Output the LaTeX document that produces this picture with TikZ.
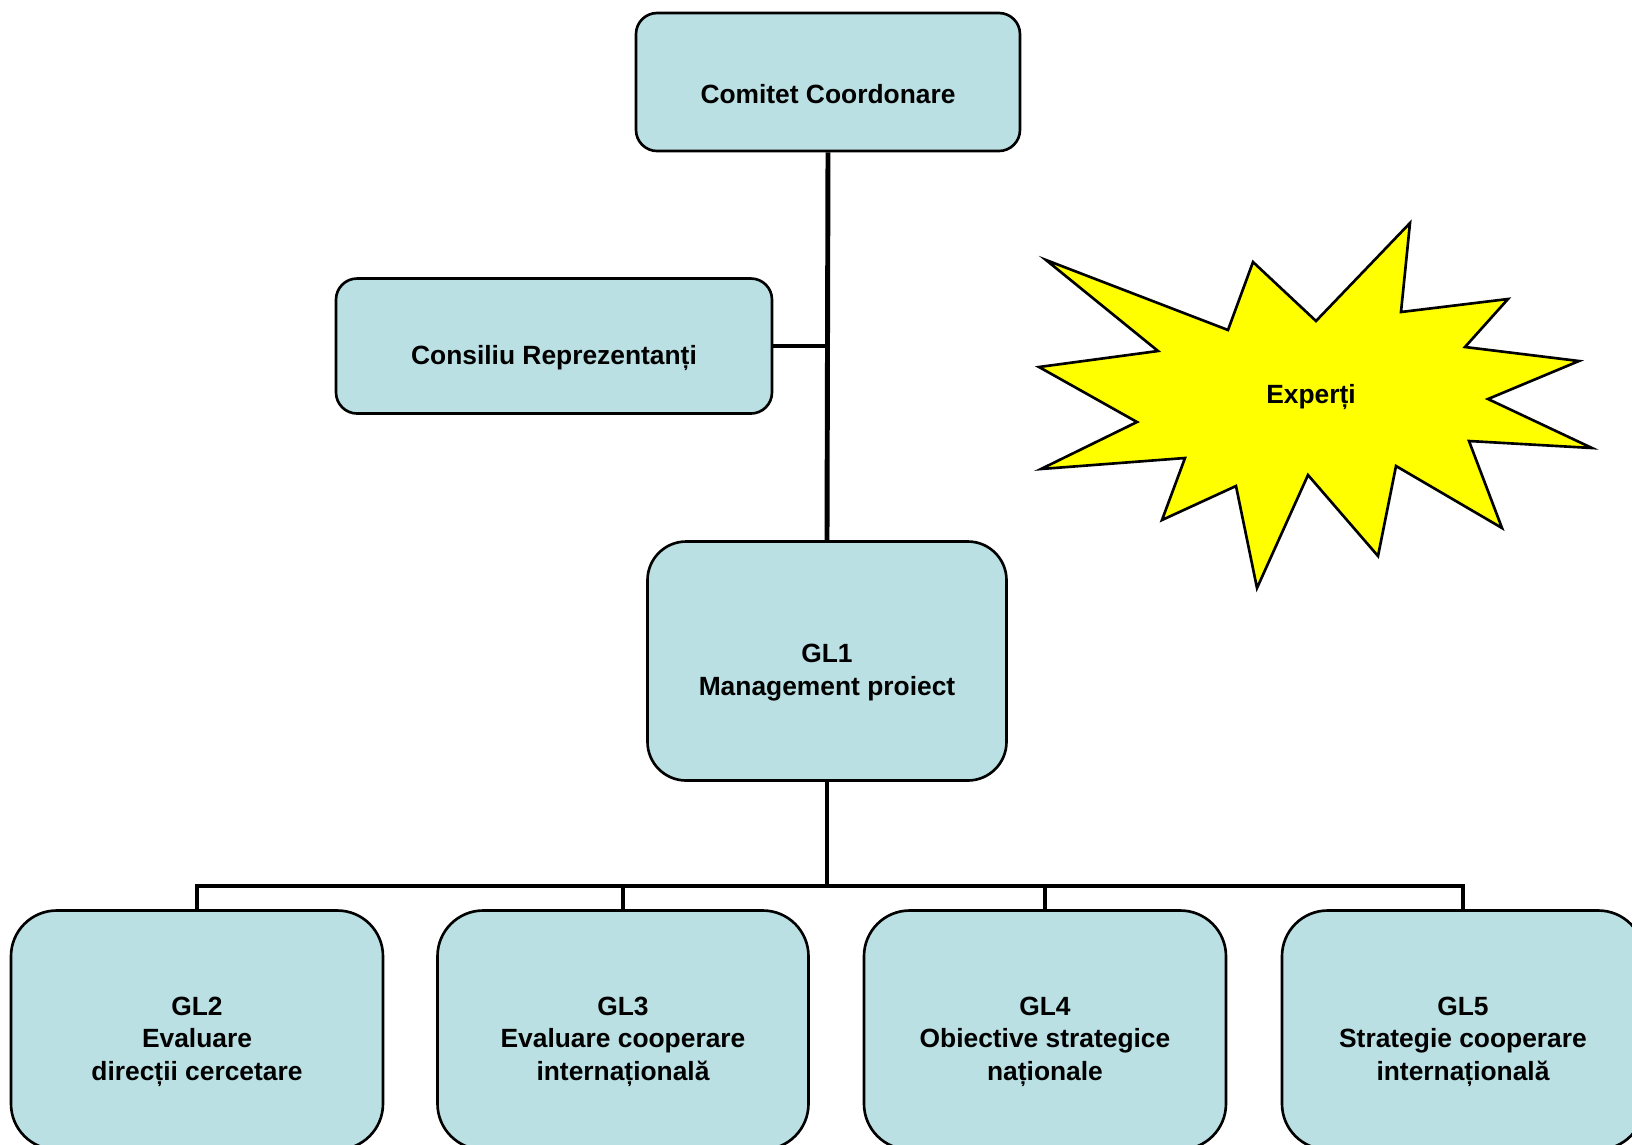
\documentclass[tikz,border=0pt]{standalone}
\usepackage{fontspec}
\setmainfont{Liberation Sans}
\usetikzlibrary{positioning}
\definecolor{boxblue}{RGB}{186,224,227}
\definecolor{burstyellow}{RGB}{255,255,0}
\begin{document}
\begin{tikzpicture}[x=0.01cm,y=-0.01cm,
    boxtext/.style={align=center,font=\fontsize{7.5}{9.2}\selectfont\bfseries},
    box/.style={draw,fill=boxblue,line width=0.75pt,
        label={[boxtext,yshift=-3.3pt]center:#1}},
    link/.style={line width=1.4pt}]
    \useasboundingbox (0,0) rectangle (1632,1144);

    % Draw the boxes
    \node[box={Comitet Coordonare},rounded corners=6pt,minimum width=384*0.01cm,minimum height=138*0.01cm] (comitet) at (828,82) {};
    \node[box={Consiliu Reprezentanți},rounded corners=6pt,minimum width=436*0.01cm,minimum height=135*0.01cm] (consiliu) at (554,346) {};
    \node[box={GL1\\Management proiect},rounded corners=11pt,minimum width=359*0.01cm,minimum height=239*0.01cm] (gl1) at (827,661) {};
    \node[box={GL2\\Evaluare\\direcții cercetare},rounded corners=13pt,minimum width=372*0.01cm,minimum height=239*0.01cm] (gl2) at (197,1030) {};
    \node[box={GL3\\Evaluare cooperare\\internațională},rounded corners=13pt,minimum width=371*0.01cm,minimum height=239*0.01cm] (gl3) at (623,1030) {};
    \node[box={GL4\\Obiective strategice\\naționale},rounded corners=13pt,minimum width=362*0.01cm,minimum height=239*0.01cm] (gl4) at (1045,1030) {};
    \node[box={GL5\\Strategie cooperare\\internațională},rounded corners=13pt,minimum width=362*0.01cm,minimum height=239*0.01cm] (gl5) at (1463,1030) {};

    % Draw the star
    \draw[fill=burstyellow,line width=0.75pt] (1046,260) -- (1158,351) -- (1039,367) -- (1137,422)
        -- (1041,469) -- (1185,458) -- (1162,520) -- (1236,486) -- (1257,588) -- (1308,475)
        -- (1378,556) -- (1396,466) -- (1502,528) -- (1469,441) -- (1592,448) -- (1488,399)
        -- (1579,361) -- (1465,347) -- (1508,299) -- (1401,312) -- (1410,223) -- (1316,321)
        -- (1253,262) -- (1228,330) -- cycle;
    \node[boxtext] (experti) at (1311,397) {Experți};

    % Draw the lines
    \coordinate (bus) at (827,886);
    \draw[link] (comitet.south) -- (gl1.north);
    \draw[link] (consiliu.east) -- (consiliu.east -| comitet.south);
    \draw[link] (gl1.south) -- (bus);
    \draw[link] (gl2.north) |- (bus) -| (gl5.north);
    \draw[link] (gl3.north) -- (gl3.north |- bus);
    \draw[link] (gl4.north) -- (gl4.north |- bus);
\end{tikzpicture}
\end{document}
